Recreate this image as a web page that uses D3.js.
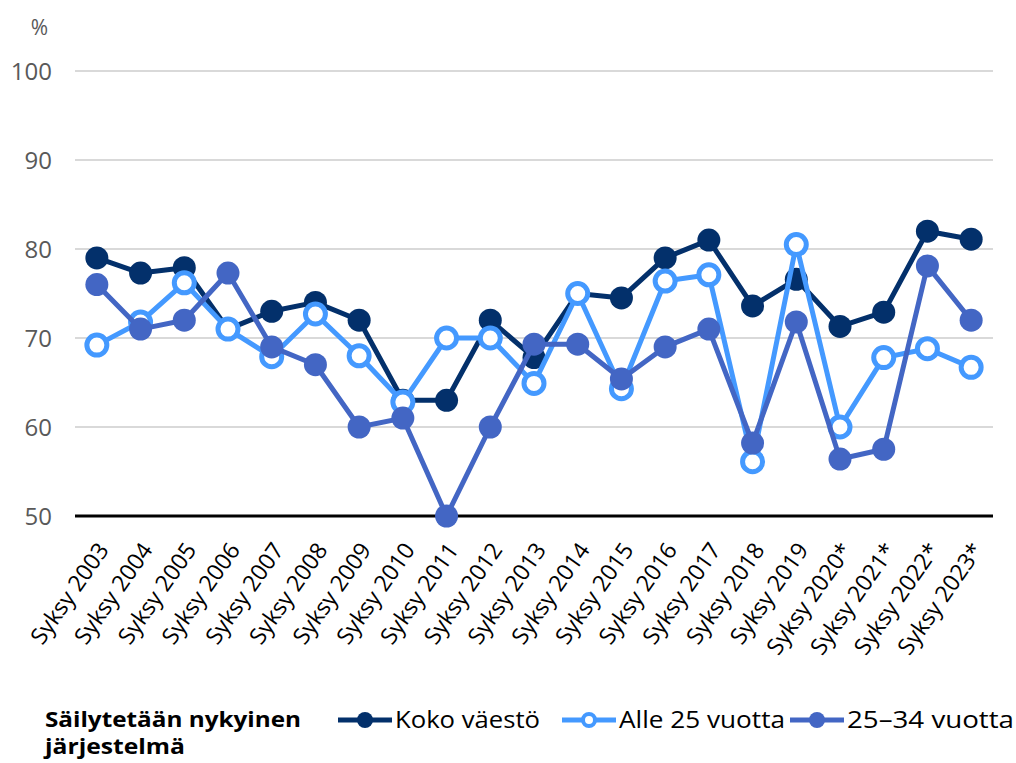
<!DOCTYPE html>
<html>
<head>
<meta charset="utf-8">
<script src="https://cdn.jsdelivr.net/npm/d3@7"></script>
<style>
  body { margin: 0; background: #fff; }
  svg { display: block; font-family: "Open Sans", "Noto Sans", sans-serif; }
</style>
</head>
<body>
<div id="chart"></div>
<script>
"use strict";

// chart values
const years = ["Syksy 2003", "Syksy 2004", "Syksy 2005", "Syksy 2006", "Syksy 2007",
  "Syksy 2008", "Syksy 2009", "Syksy 2010", "Syksy 2011", "Syksy 2012", "Syksy 2013",
  "Syksy 2014", "Syksy 2015", "Syksy 2016", "Syksy 2017", "Syksy 2018", "Syksy 2019",
  "Syksy 2020*", "Syksy 2021*", "Syksy 2022*", "Syksy 2023*"];

const koko = [79, 77.3, 77.9, 71, 73, 74, 72, 63, 63, 72, 67.8, 75, 74.5, 79, 81, 73.6, 76.6, 71.3, 72.9, 82, 81.1];
const alle25 = [69.2, 71.8, 76.2, 71, 67.9, 72.7, 68, 62.8, 70, 70, 64.9, 75, 64.3, 76.4, 77.1, 56.1, 80.5, 60, 67.8, 68.8, 66.7];
const age2534 = [76, 71, 72, 77.3, 69, 67, 60, 61, 50, 60, 69.3, 69.3, 65.4, 69, 71, 58.2, 71.8, 56.4, 57.5, 78.1, 72];

const yTicks = [50, 60, 70, 80, 90, 100];
const legendTitle = ["Säilytetään nykyinen", "järjestelmä"];

const series = [
  { name: "Koko väestö", values: koko, color: "#03306b", open: false },
  { name: "Alle 25 vuotta", values: alle25, color: "#4499ff", open: true },
  { name: "25–34 vuotta", values: age2534, color: "#4366c4", open: false }
];

const width = 1016, height = 763;
const margin = { left: 75, right: 23, top: 71, bottom: 247 };

const svg = d3.select("#chart").append("svg")
  .attr("width", width)
  .attr("height", height);

const x = d3.scaleBand()
  .domain(years)
  .range([margin.left, width - margin.right]);

const y = d3.scaleLinear()
  .domain([50, 100])
  .range([height - margin.bottom, margin.top]);

// grid
svg.append("g")
  .selectAll("line")
  .data(yTicks.slice(1))
  .join("line")
    .attr("x1", margin.left)
    .attr("x2", width - margin.right)
    .attr("y1", d => y(d))
    .attr("y2", d => y(d))
    .attr("stroke", "#d9d9d9")
    .attr("stroke-width", 2);

// y labels
svg.append("g")
  .selectAll("text")
  .data(yTicks)
  .join("text")
    .attr("x", 52)
    .attr("y", d => y(d))
    .attr("dy", "0.36em")
    .attr("text-anchor", "end")
    .attr("fill", "#595959")
    .style("font-size", "24px")
    .text(d => d);

svg.append("text")
  .attr("x", 48)
  .attr("y", 27)
  .attr("dy", "0.36em")
  .attr("text-anchor", "end")
  .attr("fill", "#595959")
  .style("font-size", "21px")
  .text("%");

// baseline
svg.append("line")
  .attr("x1", margin.left)
  .attr("x2", width - margin.right)
  .attr("y1", y(50))
  .attr("y2", y(50))
  .attr("stroke", "#000")
  .attr("stroke-width", 3);

// x labels
svg.append("g")
  .selectAll("text")
  .data(years)
  .join("text")
    .attr("transform", d => `translate(${x(d) + x.bandwidth() / 2 + 13},${y(50) + 34}) rotate(-55)`)
    .attr("text-anchor", "end")
    .attr("fill", "#000")
    .style("font-size", "23px")
    .text(d => d);

const line = d3.line()
  .x((d, i) => x(years[i]) + x.bandwidth() / 2)
  .y(d => y(d));

series.forEach(s => {
  const g = svg.append("g");
  g.append("path")
    .attr("d", line(s.values))
    .attr("fill", "none")
    .attr("stroke", s.color)
    .attr("stroke-width", 5)
    .attr("stroke-linejoin", "round");
  g.selectAll("circle")
    .data(s.values)
    .join("circle")
      .attr("cx", (d, i) => x(years[i]) + x.bandwidth() / 2)
      .attr("cy", d => y(d))
      .attr("r", s.open ? 10 : 11.5)
      .attr("fill", s.open ? "#fff" : s.color)
      .attr("stroke", s.open ? s.color : "none")
      .attr("stroke-width", s.open ? 5 : 0);
});

// legend
const legend = svg.append("g");
const titleWidths = [256, 140];

legend.selectAll("text.title")
  .data(legendTitle)
  .join("text")
    .attr("class", "title")
    .attr("x", 45)
    .attr("y", (d, i) => 727 + i * 27)
    .attr("font-weight", "bold")
    .attr("textLength", (d, i) => titleWidths[i])
    .attr("lengthAdjust", "spacingAndGlyphs")
    .style("font-size", "22px")
    .text(d => d);

const legendX = [338, 562, 790];
const legendTextW = [145, 166, 167];
series.forEach((s, i) => {
  const lg = legend.append("g").attr("transform", `translate(${legendX[i]},720)`);
  lg.append("line")
    .attr("x1", 0).attr("x2", 54)
    .attr("stroke", s.color)
    .attr("stroke-width", 5);
  lg.append("circle")
    .attr("cx", 27)
    .attr("r", s.open ? 6 : 8)
    .attr("fill", s.open ? "#fff" : s.color)
    .attr("stroke", s.open ? s.color : "none")
    .attr("stroke-width", s.open ? 4 : 0);
  lg.append("text")
    .attr("x", 57)
    .attr("y", 8)
    .attr("textLength", legendTextW[i])
    .attr("lengthAdjust", "spacingAndGlyphs")
    .style("font-size", "24px")
    .text(s.name);
});
</script>
</body>
</html>
